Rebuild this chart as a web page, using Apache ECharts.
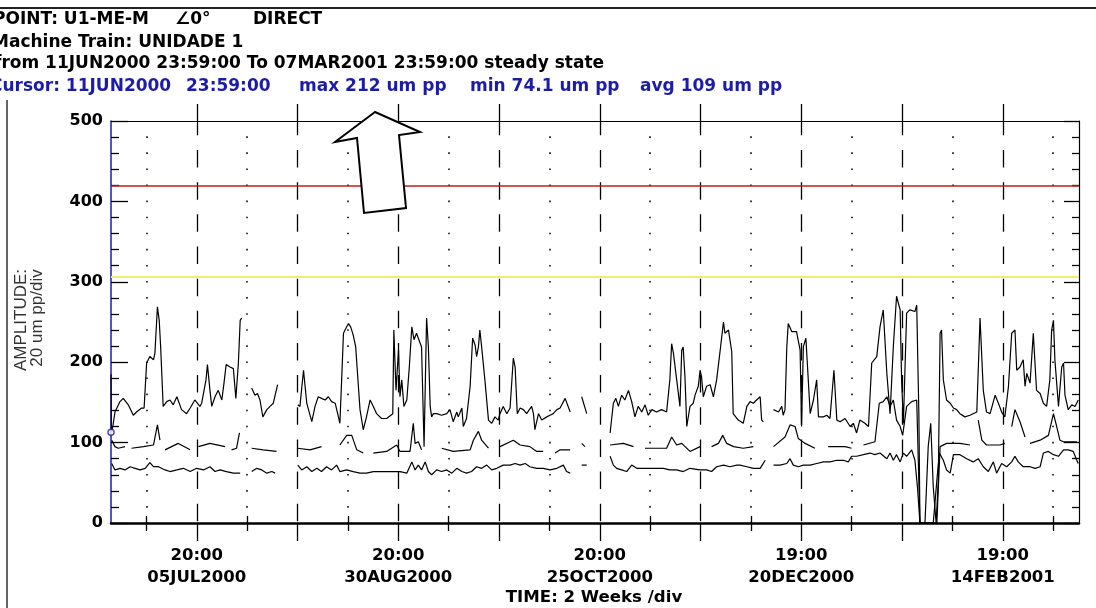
<!DOCTYPE html>
<html><head><meta charset="utf-8">
<script src="https://cdn.jsdelivr.net/npm/echarts@6/dist/echarts.min.js"></script>
<style>html,body{margin:0;padding:0;background:#fff}#c{width:1096px;height:608px}</style>
</head><body><div id="c"></div>
<script>
// x values are days since 11JUN2000 23:59:00; y values are amplitude in um pp
const xStartDay = 0, xEndDay = 269;
const majorTickDays = [23.83, 51.83, 79.83, 107.83, 135.83, 163.83, 191.83, 219.83, 247.83];
const minorTickDays = [9.83, 37.83, 65.83, 93.83, 121.83, 149.83, 177.83, 205.83, 233.83, 261.83];
const labelDays = [23.83, 79.83, 135.83, 191.83, 247.83];
const labelTimes = ['20:00', '20:00', '20:00', '19:00', '19:00'];
const labelDates = ['05JUL2000', '30AUG2000', '25OCT2000', '20DEC2000', '14FEB2001'];
const dangerLevel = 420;
const alertLevel = 306;
const cursorPoint = [[0, 113]];

const upperAmp = [
[0,185],[0.1,113],[0.5,120],[1.1,138],[2.5,151],[3.4,155],[4.8,147],[6.2,134],[7.1,138],[8.5,143],[9.2,143],[9.9,199],[10.8,207],[11.8,203],[12.2,211],[12.9,269],[13.4,252],[13.8,219],[14.5,145],[15.5,151],[16.4,153],[17.3,147],[18.3,157],[19.6,141],[21,136],[22,143],[23.3,153],[24.7,145],[25.2,149],[26.4,178],[26.8,197],[27.5,165],[28,145],[28.9,157],[29.8,165],[30.8,153],[31.4,174],[32,197],[33.1,194],[34,192],[34.7,155],[35.4,199],[35.9,252],[36.3,255],[37,null],
[39.1,168],[40,159],[40.7,161],[41.4,153],[42.2,132],[43.3,141],[44.2,145],[45.1,149],[46.3,172],[47,null],
[51.9,147],[52.5,145],[53.5,190],[54.4,149],[55.8,126],[56.7,145],[57.6,157],[58.5,155],[59.5,153],[60.4,157],[61.3,151],[62.3,149],[63.2,132],[63.6,124],[64.1,178],[64.6,236],[65.5,244],[66,248],[66.6,244],[67.3,234],[68,219],[68.5,186],[69.2,141],[70.1,116],[71,132],[72,153],[72.9,145],[73.8,136],[75.2,130],[76.6,130],[78.3,136],[78.6,240],[79.2,165],[79.9,215],[80.3,157],[80.8,178],[81.4,145],[82.2,153],[82.9,194],[83.6,244],[84.2,228],[84.9,236],[86.3,219],[87,95],[87.7,255],[88.2,219],[88.7,145],[89.1,132],[89.6,136],[90.5,136],[91.9,134],[93.3,136],[94.2,141],[95.1,126],[96.1,138],[96.5,132],[97.5,143],[97.9,120],[98.8,130],[99.3,128],[99.8,170],[100.5,230],[101.2,221],[101.6,207],[102.1,219],[102.5,240],[103,219],[103.9,178],[104.9,128],[105.8,124],[106.7,132],[107.6,128],[108.1,136],[109,145],[110,136],[110.9,143],[111.8,205],[112.3,194],[112.9,136],[113.7,143],[114.6,141],[115.5,136],[116.9,145],[117.4,136],[117.8,116],[118.8,136],[119.7,128],[121.1,132],[122,134],[122.9,136],[123.9,141],[124.8,143],[126.2,155],[126.6,153],[127.6,138],[128,null],
[130.8,157],[132.2,136],[133,null],
[138.7,112],[139.6,149],[140.3,155],[141,145],[141.9,159],[142.8,153],[143.8,165],[144.7,151],[145.6,132],[146.5,145],[147.5,138],[148.4,147],[149.3,134],[150.3,141],[151.6,138],[153,141],[154.4,138],[155.3,178],[155.8,223],[156.3,211],[157.2,178],[158.1,145],[158.6,215],[159,219],[159.5,182],[160,120],[160.9,145],[161.8,149],[162.3,159],[163.2,170],[163.7,190],[164.1,182],[164.6,157],[165.5,170],[166.5,172],[167.4,157],[168.3,178],[169.4,219],[170.2,250],[170.6,236],[171.6,240],[172.5,213],[172.9,136],[174.3,128],[175.7,124],[176.7,145],[177.6,151],[178.5,149],[179.4,153],[180.4,157],[180.8,128],[181.3,126],[182,null],
[184.1,141],[185.5,138],[186.4,145],[186.8,134],[187.3,141],[187.8,219],[188.2,248],[189.2,238],[190.5,238],[191.5,215],[191.9,120],[192.4,219],[193.1,230],[193.5,199],[194.3,136],[195.2,153],[196.1,178],[196.6,132],[198,132],[198.9,134],[199.8,130],[200.9,190],[201.7,128],[202.6,126],[204,130],[205.4,120],[206.3,124],[207.2,112],[208.1,128],[209.5,124],[210.5,120],[211.4,199],[212.8,207],[213.7,244],[214.6,265],[215.6,186],[216.5,136],[217.4,219],[218.3,282],[219.3,265],[219.7,178],[220.2,124],[221.1,261],[222,265],[223.4,263],[223.9,271],[224.5,136],[224.8,0],[226.2,0],[227.1,95],[227.8,124],[228.5,45],[229.3,0],[229.9,53],[230.4,236],[230.8,240],[231.3,178],[232.2,153],[233.2,149],[234.1,143],[235,141],[235.9,136],[237.3,132],[238.7,134],[240.6,138],[241.5,255],[242.4,165],[243.3,138],[244.3,136],[245.7,159],[246.6,149],[247.5,138],[248.4,132],[249.4,170],[250.3,236],[251.2,240],[251.7,190],[252.6,194],[253.5,203],[254,170],[254.5,186],[255.4,174],[256.3,236],[257.2,165],[258.2,161],[259.1,149],[260,145],[260.9,178],[261.4,240],[261.9,252],[262.3,203],[263.3,145],[264.2,194],[264.7,199],[265.1,159],[266,141],[267,147],[267.9,145],[268.8,153]
];

const middleAmp = [
[0.2,103],[1.1,95],[2,93],[3.9,95],[4.5,null],[5.7,93],[9,95],[11.8,97],[12.9,122],[13.6,103],[14.2,null],[15,91],[18.7,99],[22,91],[23,null],[24.3,95],[27.5,99],[31.7,95],[32.5,null],[33.5,91],[34.9,93],[35.7,112],[37,null],[39.1,93],[42.3,91],[46,89],[47,null],[51.9,93],[55.3,91],[58.5,95],[60,null],[63.6,97],[65.5,109],[66.9,109],[68.3,91],[70.1,87],[71,null],[72.9,87],[76.6,89],[79.4,97],[80.3,89],[83.1,89],[84,124],[84.5,99],[85.4,101],[86.3,91],[87,null],[91.9,93],[95.1,89],[99.8,91],[100.7,103],[102.1,114],[103,103],[104.9,93],[106,null],[108.1,95],[111.8,103],[113.7,97],[116.4,95],[118.3,89],[120.1,89],[121,null],[123.4,87],[124.8,91],[127.6,91],[128.5,null],[130.8,99],[131.7,95],[132.5,null],[138.7,97],[142.4,99],[145.2,95],[146,null],[148.4,93],[154.4,93],[155.8,107],[157.2,97],[158.6,99],[160.9,89],[163.7,95],[164.5,null],[166.9,95],[168.8,99],[170,109],[171.1,99],[173,95],[175.7,93],[178.5,95],[179.5,null],[184.1,95],[187.3,107],[188.7,122],[190.1,120],[191,105],[192.9,99],[195.6,93],[196.5,null],[199.3,95],[204,95],[205.8,93],[206.5,null],[209.1,97],[212.3,101],[213.5,149],[214.6,151],[215.6,157],[216.5,145],[217.4,153],[218.3,128],[219.3,120],[220,109],[221.1,145],[222.5,151],[223.9,153],[224.8,0],[229.5,0],[230.4,95],[232.2,99],[235.9,99],[238.7,97],[239.5,null],[241,128],[242,103],[243.3,97],[247,97],[248.4,99],[249.2,null],[250.3,120],[251.2,141],[252.6,126],[254,107],[254.7,null],[255.4,99],[258.2,103],[260.5,109],[261.9,136],[262.8,120],[263.7,103],[264.7,101],[268.4,101]
];

const lowerAmp = [
[0.2,74],[1.1,66],[2.5,68],[3.9,66],[5.3,70],[6.7,68],[8.1,66],[9.5,68],[10.8,75],[11.8,70],[13.2,70],[15,66],[16.4,64],[18.3,66],[20.1,68],[22,64],[23.8,68],[25.7,66],[27.5,70],[28.9,64],[30.3,66],[32.1,64],[34,62],[35.9,62],[37,null],[39.1,64],[40.5,68],[41.9,66],[43.3,62],[44.7,64],[45.6,62],[47,null],[51.9,72],[53,66],[54.4,70],[55.8,64],[57.2,68],[58.5,64],[59.9,70],[61.3,66],[62.7,72],[63.6,64],[65.5,66],[67.3,64],[69.2,62],[71,62],[72.9,64],[74.8,64],[76.6,64],[78.5,64],[80.3,64],[82.2,62],[83.6,76],[84.5,66],[85.4,72],[86.3,66],[87.3,76],[88.2,64],[89.1,60],[90.5,66],[91.9,64],[93.3,66],[94.7,62],[96.1,68],[97.5,64],[98.8,62],[100.2,64],[101.6,70],[103,68],[104.4,72],[105.8,66],[107.2,68],[109,72],[110.9,72],[112.3,74],[113.7,72],[115.1,74],[116.4,70],[118.3,68],[120.1,68],[122,66],[123.9,68],[125.7,72],[126.6,64],[127.6,62],[128.5,null],[130.8,72],[132.2,72],[133,null],[138.7,83],[139.6,72],[140.5,68],[141.9,66],[143.3,64],[144.7,72],[146.1,68],[147.9,68],[150.7,68],[153.5,68],[155.3,66],[157.2,66],[159,64],[160.9,68],[163.7,66],[165.5,66],[166.9,64],[168.3,70],[170.2,72],[172,70],[173.9,72],[174.8,72],[176.7,70],[178.5,68],[180.4,68],[181.8,78],[182.5,null],[184.1,72],[185.9,72],[187.8,74],[188.7,80],[189.6,72],[191,70],[192.4,72],[194.3,72],[196.1,74],[198,76],[199.8,76],[201.7,78],[203.5,78],[204.9,76],[205.8,83],[207.2,83],[209.1,85],[210.9,87],[212.3,85],[213.7,87],[215.6,80],[216.5,87],[217.4,78],[218.3,85],[219.3,76],[220.2,87],[221.1,83],[222.5,91],[223.4,78],[224.1,45],[224.8,0],[228.5,0],[229.5,53],[230.2,87],[231.3,78],[232.2,66],[233.2,62],[234.1,85],[235.9,85],[237.8,80],[239.6,76],[241,80],[242.4,70],[243.8,64],[245.2,76],[246.1,62],[247.5,74],[248.9,70],[250.3,76],[251.2,83],[252.1,76],[253.5,70],[255.4,70],[256.8,68],[258.2,70],[259.1,87],[260.5,89],[261.9,85],[263.3,83],[264.7,91],[266,91],[267.4,89],[268.4,78],[268.8,74]
];

const headerFont = 'bold 17px "DejaVu Sans"';
const tickFont = '"DejaVu Sans"';
const blue = '#1c1ca8';

const chart = echarts.init(document.getElementById('c'), null, {renderer: 'canvas'});

function xAxisBase(pos) {
  return {type: 'value', position: pos, min: xStartDay, max: xEndDay, gridIndex: 0,
    axisLabel: {show: false}, splitLine: {show: false}, axisLine: {show: false}};
}
const lineSeries = (name, data) => ({
  type: 'line', name, data, xAxisIndex: 0, yAxisIndex: 0, showSymbol: false, symbol: 'none',
  connectNulls: false, lineStyle: {color: '#000', width: 1.2}, animation: false, z: 5
});

const textEl = (text, x, y, color, font) => ({
  type: 'text', x, y, z: 50,
  style: {text, fill: color || '#000', font: font || headerFont, textVerticalAlign: 'middle'}
});

const option = {
  animation: false,
  backgroundColor: '#fff',
  grid: {left: 111, right: 17, top: 121, bottom: 85, show: false},
  xAxis: [
    Object.assign(xAxisBase('bottom'), {
      axisLine: {show: true, onZero: false, lineStyle: {color: '#000', width: 2.5}},
      axisTick: {show: true, customValues: majorTickDays, length: 18, lineStyle: {color: '#000', width: 1.3}},
      axisLabel: {show: true, customValues: labelDays, margin: 22, color: '#000',
        fontFamily: tickFont, fontWeight: 'bold', fontSize: 16.5, lineHeight: 22,
        formatter: v => { const i = labelDays.findIndex(d => Math.abs(d - v) < 0.01); return i < 0 ? '' : labelTimes[i] + '\n' + labelDates[i]; }},
      splitLine: {show: true, lineStyle: {color: '#000', width: 1.3, type: [17.5, 14.66], dashOffset: 3.16}}
    }),
    Object.assign(xAxisBase('bottom'), {
      axisTick: {show: true, customValues: minorTickDays, length: 8, lineStyle: {color: '#000', width: 1.3}},
      splitLine: {show: true, lineStyle: {color: '#000', width: 1.5, type: [1.6, 14.48], dashOffset: 0.8}}
    }),
    Object.assign(xAxisBase('top'), {
      axisLine: {show: true, onZero: false, lineStyle: {color: '#000', width: 1.2}},
      axisTick: {show: true, customValues: majorTickDays, length: 17, lineStyle: {color: '#000', width: 1.3}}
    }),
    Object.assign(xAxisBase('top'), {
      axisTick: {show: true, customValues: minorTickDays, length: 7, lineStyle: {color: '#000', width: 1.3}}
    })
  ],
  yAxis: [
    {type: 'value', position: 'left', min: 0, max: 500, interval: 100, gridIndex: 0,
      axisLine: {show: true, onZero: false, lineStyle: {color: blue, width: 1.5}},
      axisTick: {show: true, inside: true, length: 17, lineStyle: {color: '#000', width: 1.3}},
      minorTick: {show: true, splitNumber: 5, length: 8, lineStyle: {color: '#000', width: 1.3}},
      axisLabel: {show: true, margin: 8, color: '#000', fontFamily: tickFont, fontWeight: 'bold', fontSize: 16},
      splitLine: {show: false}},
    {type: 'value', position: 'right', min: 0, max: 500, interval: 100, gridIndex: 0,
      axisLine: {show: true, onZero: false, lineStyle: {color: '#000', width: 1.2}},
      axisTick: {show: true, inside: true, length: 15, lineStyle: {color: '#000', width: 1.3}},
      minorTick: {show: true, splitNumber: 5, length: 7, lineStyle: {color: '#000', width: 1.3}},
      axisLabel: {show: false}, splitLine: {show: false}}
  ],
  series: [
    Object.assign(lineSeries('upper', upperAmp), {
      markLine: {silent: true, symbol: 'none', label: {show: false}, animation: false,
        data: [
          {yAxis: dangerLevel, lineStyle: {color: '#c41e1e', width: 1.6, type: 'solid'}},
          {yAxis: alertLevel, lineStyle: {color: '#f2ee6a', width: 2, type: 'solid'}}
        ]}
    }),
    lineSeries('middle', middleAmp),
    lineSeries('lower', lowerAmp),
    {type: 'scatter', name: 'cursor', data: cursorPoint, xAxisIndex: 0, yAxisIndex: 0, symbol: 'circle', symbolSize: 6,
      itemStyle: {color: '#fff', borderColor: blue, borderWidth: 1.5}, z: 10, silent: true}
  ],
  graphic: [
    {type: 'line', z: 40, shape: {x1: 0, y1: 8, x2: 1096, y2: 8}, style: {stroke: '#222', lineWidth: 2}},
    {type: 'line', z: 40, shape: {x1: 7, y1: 100, x2: 7, y2: 608}, style: {stroke: '#666', lineWidth: 2}},
    textEl('POINT: U1-ME-M', -7, 20),
    textEl('\u22200\u00b0', 175, 20),
    textEl('DIRECT', 253, 20),
    textEl('Machine Train: UNIDADE 1', -8, 43),
    textEl('from 11JUN2000 23:59:00 To 07MAR2001 23:59:00 steady state', -6, 64),
    textEl('Cursor: 11JUN2000', -10, 87, blue),
    textEl('23:59:00', 186, 87, blue),
    textEl('max 212 um pp', 299, 87, blue),
    textEl('min 74.1 um pp', 470, 87, blue),
    textEl('avg 109 um pp', 640, 87, blue),
    {type: 'text', x: 21, y: 320, rotation: Math.PI / 2, z: 50,
      style: {text: 'AMPLITUDE:', fill: '#333', font: '17px "Liberation Sans"', textAlign: 'center', textVerticalAlign: 'middle'}},
    {type: 'text', x: 37, y: 318, rotation: Math.PI / 2, z: 50,
      style: {text: '20 um pp/div', fill: '#333', font: '17px "Liberation Sans"', textAlign: 'center', textVerticalAlign: 'middle'}},
    {type: 'text', x: 594, y: 598, z: 50,
      style: {text: 'TIME: 2 Weeks /div', fill: '#000', font: 'bold 16.6px "DejaVu Sans"', textAlign: 'center', textVerticalAlign: 'middle'}},
    {type: 'polygon', z: 60,
      shape: {points: [[375, 112], [335, 142], [357, 138], [364, 213], [406, 208], [399, 135], [420, 132]]},
      style: {fill: '#fff', stroke: '#000', lineWidth: 2}}
  ]
};
chart.setOption(option);
</script>
</body></html>
